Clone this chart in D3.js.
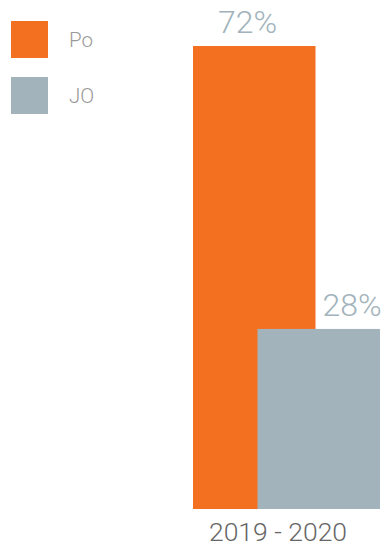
<!DOCTYPE html>
<html>
<head>
<meta charset="utf-8">
<script src="https://cdn.jsdelivr.net/npm/d3@7"></script>
<style>
  html, body { margin: 0; padding: 0; background: #fff; }
  svg { display: block; }
  text { font-family: "Helvetica Neue", Roboto, "Liberation Sans", Arial, sans-serif; font-weight: 300; }
</style>
</head>
<body>
<div id="chart"></div>
<script>
// Share of each group for the period
const categories = ["2019 - 2020"];
const seriesNames = ["Po", "JO"];
const seriesValues = [72, 28];
const seriesColors = ["#F37021", "#A2B3BC"];
const valueLabels = ["72%", "28%"];

const width = 388, height = 547;
const svg = d3.select("#chart").append("svg")
  .attr("width", width).attr("height", height);

// Vertical value scale
const y = d3.scaleLinear().domain([0, 72]).range([509, 46]);

// Category band, with the two series bars overlapping inside it
const x = d3.scaleBand().domain(categories).range([193, 380]).padding(0);
const barWidth = 122.5;
const seriesX = d3.scalePoint().domain(seriesNames)
  .range([0, x.bandwidth() - barWidth]);

const g = svg.append("g");

seriesNames.forEach((name, i) => {
  const cat = categories[0];
  g.append("rect")
    .attr("x", x(cat) + seriesX(name))
    .attr("y", y(seriesValues[i]))
    .attr("width", barWidth)
    .attr("height", y(0) - y(seriesValues[i]))
    .attr("fill", seriesColors[i]);
});

// Value labels above each bar
const labelOffsets = [25, 65];
seriesNames.forEach((name, i) => {
  g.append("text")
    .attr("x", x(categories[0]) + seriesX(name) + labelOffsets[i])
    .attr("y", y(seriesValues[i]) - 13)
    .attr("fill", "#A2B3BC")
    .attr("font-size", 32)
    .text(valueLabels[i]);
});

// Category axis label
g.append("text")
  .attr("x", 278)
  .attr("y", 541)
  .attr("text-anchor", "middle")
  .attr("fill", "#666")
  .attr("font-size", 26.5)
  .text(categories[0]);

// Legend
const legend = svg.append("g");
seriesNames.forEach((name, i) => {
  const row = legend.append("g").attr("transform", `translate(11,${21 + i * 56})`);
  row.append("rect").attr("width", 37).attr("height", 37).attr("fill", seriesColors[i]);
  row.append("text")
    .attr("x", 58).attr("y", 25.5)
    .attr("fill", "#999")
    .attr("font-size", 20.5)
    .text(name);
});
</script>
</body>
</html>
